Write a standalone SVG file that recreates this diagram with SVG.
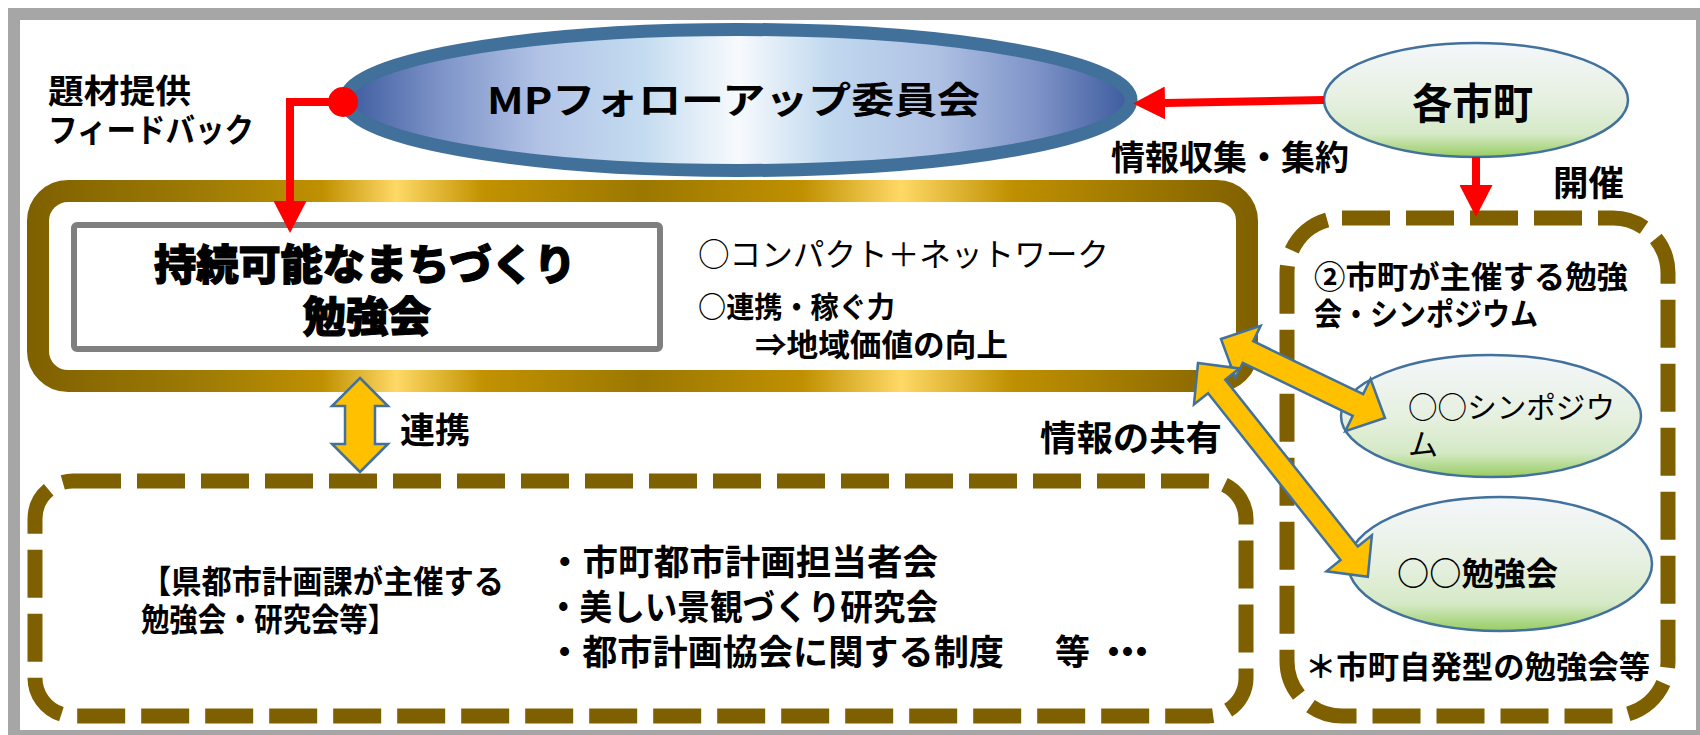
<svg xmlns="http://www.w3.org/2000/svg" width="1700" height="735" viewBox="0 0 1700 735">
<defs>
<linearGradient id="gMP" gradientUnits="userSpaceOnUse" x1="345" y1="0" x2="1131" y2="0">
<stop offset="0" stop-color="#3c5a9d"/>
<stop offset="0.12" stop-color="#7d93c8"/>
<stop offset="0.25" stop-color="#b2c3e6"/>
<stop offset="0.38" stop-color="#c4dcf0"/>
<stop offset="0.5" stop-color="#f7fafd"/>
<stop offset="0.62" stop-color="#c0d8ee"/>
<stop offset="0.75" stop-color="#b0c2e4"/>
<stop offset="0.88" stop-color="#7e93c8"/>
<stop offset="1" stop-color="#3c5a9d"/>
</linearGradient>
<linearGradient id="gGold" gradientUnits="userSpaceOnUse" x1="27" y1="0" x2="1258" y2="0">
<stop offset="0" stop-color="#7f6000"/>
<stop offset="0.15" stop-color="#a07d05"/>
<stop offset="0.24" stop-color="#c09000"/>
<stop offset="0.3" stop-color="#ffd966"/>
<stop offset="0.37" stop-color="#c29200"/>
<stop offset="0.5" stop-color="#9c7800"/>
<stop offset="0.63" stop-color="#c09000"/>
<stop offset="0.71" stop-color="#ffd966"/>
<stop offset="0.8" stop-color="#bf9000"/>
<stop offset="1" stop-color="#7f6000"/>
</linearGradient>
<linearGradient id="gGreen" x1="0" y1="0" x2="0" y2="1">
<stop offset="0" stop-color="#f4f7fb"/>
<stop offset="0.5" stop-color="#e6f0e0"/>
<stop offset="0.8" stop-color="#d5e9c6"/>
<stop offset="1" stop-color="#97cd62"/>
</linearGradient>
<marker id="ah" markerUnits="userSpaceOnUse" viewBox="0 0 32 33" refX="0" refY="16.5" markerWidth="32" markerHeight="33" orient="auto">
<path d="M0,0 L32,16.5 L0,33 z" fill="#ff0000"/>
</marker>
<marker id="dot" markerUnits="userSpaceOnUse" viewBox="0 0 30 30" refX="15" refY="15" markerWidth="30" markerHeight="30" orient="auto">
<circle cx="15" cy="15" r="15" fill="#ff0000"/>
</marker>
<style>
text{font-family:"Noto Sans CJK JP","Noto Sans",sans-serif;fill:#000;}
.b{font-weight:700;}
.m{font-weight:400;}
.h{font-weight:900;stroke:#000;stroke-width:1.2;}
.dash{fill:none;stroke:#7f6000;stroke-width:15;stroke-dasharray:48 16;}
.ell{fill:url(#gGreen);stroke:#41719c;stroke-width:2.5;}
.dbl{fill:#ffc000;stroke:#41719c;stroke-width:2.5;stroke-linejoin:miter;}
.red{fill:none;stroke:#ff0000;stroke-width:8;}
</style>
</defs>

<rect x="0" y="0" width="1700" height="735" fill="#ffffff"/>
<rect id="frame" x="14" y="14" width="1688" height="722" fill="#ffffff" stroke="#a6a6a6" stroke-width="12"/>

<g id="labels">
<text class="b" x="48" y="103" font-size="33" textLength="143" lengthAdjust="spacingAndGlyphs">題材提供</text>
<text class="b" x="48" y="142" font-size="33" textLength="206" lengthAdjust="spacingAndGlyphs">フィードバック</text>
<text class="b" x="1111" y="170" font-size="34" textLength="238" lengthAdjust="spacingAndGlyphs">情報収集・集約</text>
<text class="b" x="1553" y="196" font-size="35" textLength="71" lengthAdjust="spacingAndGlyphs">開催</text>
<text class="b" x="400" y="443" font-size="35" textLength="70" lengthAdjust="spacingAndGlyphs">連携</text>
<text class="b" x="1040" y="451" font-size="35" textLength="182" lengthAdjust="spacingAndGlyphs">情報の共有</text>
</g>

<g id="node-study">
<rect x="38" y="191" width="1209" height="190" rx="30" ry="30" fill="#ffffff" stroke="url(#gGold)" stroke-width="22"/>
<rect x="74" y="225" width="586" height="124" rx="3" ry="3" fill="#ffffff" stroke="#7f7f7f" stroke-width="6"/>
<text class="h" x="154" y="280" font-size="42" textLength="422" lengthAdjust="spacingAndGlyphs">持続可能なまちづくり</text>
<text class="h" x="303" y="332" font-size="42" textLength="128" lengthAdjust="spacingAndGlyphs">勉強会</text>
<text class="m" x="698" y="266" font-size="32" textLength="411" lengthAdjust="spacingAndGlyphs">○コンパクト＋ネットワーク</text>
<text class="b" x="698" y="318" font-size="29" textLength="197" lengthAdjust="spacingAndGlyphs">○連携・稼ぐ力</text>
<text class="b" x="755" y="356" font-size="31" textLength="253" lengthAdjust="spacingAndGlyphs">⇒地域価値の向上</text>
</g>

<g id="node-mp">
<ellipse cx="738" cy="100" rx="393" ry="70.5" fill="url(#gMP)" stroke="#41709b" stroke-width="13"/>
<text class="b" x="487" y="114" font-size="37" textLength="493" lengthAdjust="spacingAndGlyphs">MPフォローアップ委員会</text>
</g>

<g id="node-cities">
<ellipse class="ell" cx="1476" cy="100" rx="152" ry="57"/>
<text class="b" x="1412" y="119" font-size="42" textLength="121" lengthAdjust="spacingAndGlyphs">各市町</text>
</g>

<g id="node-pref">
<rect class="dash" x="35" y="481" width="1211" height="235" rx="38" ry="38"/>
<text class="b" x="141" y="593" font-size="32" textLength="363" lengthAdjust="spacingAndGlyphs">【県都市計画課が主催する</text>
<text class="b" x="141" y="631" font-size="32" textLength="255" lengthAdjust="spacingAndGlyphs">勉強会・研究会等】</text>
<text class="b" x="547" y="575" font-size="35" textLength="391" lengthAdjust="spacingAndGlyphs">・市町都市計画担当者会</text>
<text class="b" x="547" y="620" font-size="35" textLength="391" lengthAdjust="spacingAndGlyphs">・美しい景観づくり研究会</text>
<text class="b" x="547" y="665" font-size="35" textLength="457" lengthAdjust="spacingAndGlyphs">・都市計画協会に関する制度</text>
<text class="b" x="1055 1096 1110 1124" y="665" font-size="35">等・・・</text>
</g>

<g id="node-local">
<rect class="dash" x="1287" y="218" width="381" height="498" rx="55" ry="55"/>
<text class="b" x="1314" y="288" font-size="31" textLength="314" lengthAdjust="spacingAndGlyphs">②市町が主催する勉強</text>
<text class="b" x="1314" y="325" font-size="31" textLength="224" lengthAdjust="spacingAndGlyphs">会・シンポジウム</text>
<text class="b" x="1305" y="678" font-size="31" textLength="345" lengthAdjust="spacingAndGlyphs">＊市町自発型の勉強会等</text>
</g>

<g id="node-symposium">
<ellipse class="ell" cx="1491" cy="416" rx="150" ry="61"/>
<text class="m" x="1408" y="418" font-size="30" textLength="207" lengthAdjust="spacingAndGlyphs">○○シンポジウ</text>
<text class="m" x="1408" y="455" font-size="30">ム</text>
</g>

<g id="node-benkyo">
<ellipse class="ell" cx="1500" cy="564" rx="152" ry="67"/>
<text class="b" x="1397" y="585" font-size="32" textLength="161" lengthAdjust="spacingAndGlyphs">○○勉強会</text>
</g>

<g id="connectors">
<path class="red" d="M343,102 H290 V201" marker-start="url(#dot)" marker-end="url(#ah)"/>
<path class="red" d="M1324,100 L1165,103" marker-end="url(#ah)"/>
<path class="red" d="M1476,157 V185" marker-end="url(#ah)"/>
<polygon class="dbl" points="360,378 388,406 375,406 375,444 388,444 360,472 332,444 345,444 345,406 332,406"/>
<polygon class="dbl" transform="translate(1221,339) rotate(25.72)" points="0,0 30,-29 30,-12 152,-12 152,-29 182,0 152,29 152,12 30,12 30,29"/>
<polygon class="dbl" transform="translate(1198,363) rotate(51.53)" points="0,0 30,-29 30,-11 243,-11 243,-29 273,0 243,29 243,11 30,11 30,29"/>
</g>
</svg>
